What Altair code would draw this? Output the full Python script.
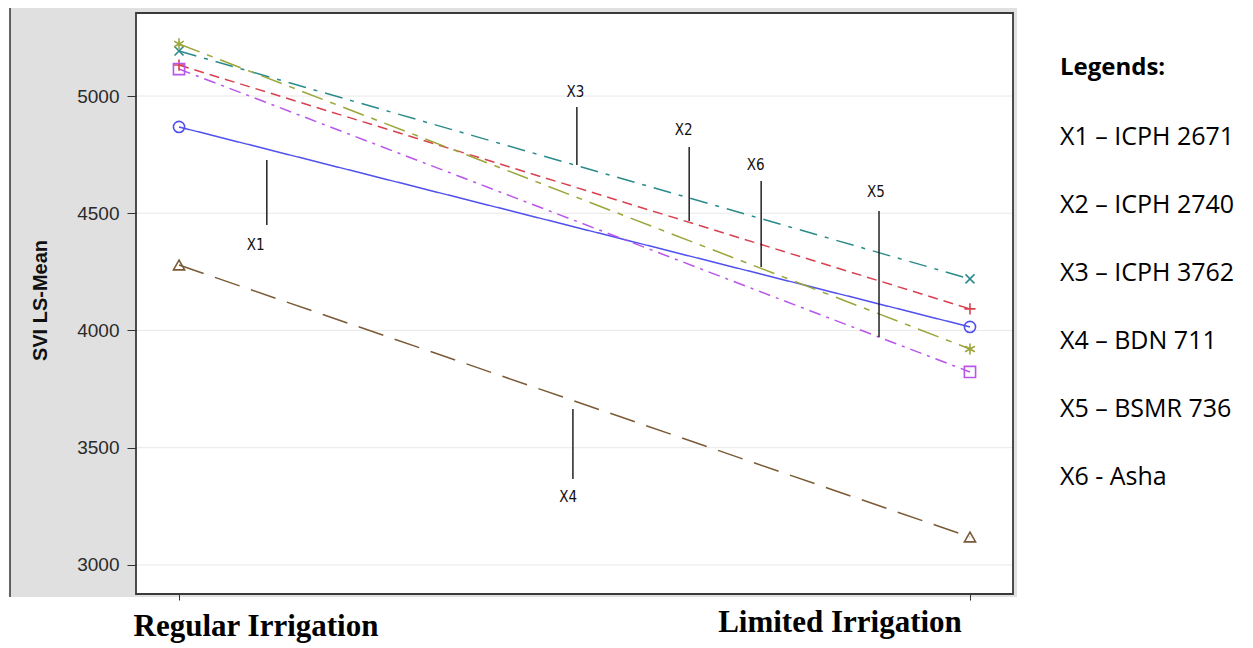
import altair as alt
import pandas as pd

# ---------------- data ----------------
conditions = ["Regular Irrigation", "Limited Irrigation"]
series = ["X1", "X2", "X3", "X4", "X5", "X6"]
regular_vals = [4868, 5132, 5192, 4279, 5115, 5222]
limited_vals = [4015, 4092, 4220, 3119, 3823, 3921]

y_ticks = [3000, 3500, 4000, 4500, 5000]

# annotation (callout) anchors, in data units (condition position 0..1, SVI value)
ann_labels = ["X1", "X2", "X3", "X4", "X5", "X6"]
ann_line_x = [0.111, 0.645, 0.503, 0.498, 0.885, 0.736]
ann_line_top = [4727, 4783, 4953, 3665, 4510, 4637]
ann_line_bot = [4450, 4467, 4706, 3367, 3972, 4271]
ann_text_x = [0.097, 0.638, 0.501, 0.492, 0.881, 0.729]
ann_text_y = [4365, 4855, 5017, 3290, 4591, 4706]

legend_title = "Legends:"
legend_items = [
    "X1 \u2013 ICPH 2671",
    "X2 \u2013 ICPH 2740",
    "X3 \u2013 ICPH 3762",
    "X4 \u2013 BDN 711",
    "X5 \u2013 BSMR 736",
    "X6 - Asha",
]

# ---------------- tables ----------------
rows = []
for s, r, l in zip(series, regular_vals, limited_vals):
    rows.append({"series": s, "cond": conditions[0], "pos": 0, "value": r})
    rows.append({"series": s, "cond": conditions[1], "pos": 1, "value": l})
df = pd.DataFrame(rows)

ann = pd.DataFrame({
    "label": ann_labels, "lx": ann_line_x, "ytop": ann_line_top,
    "ybot": ann_line_bot, "tx": ann_text_x, "ty": ann_text_y,
})
grid_df = pd.DataFrame({"tick": y_ticks})
cond_df = pd.DataFrame({"cond": conditions, "pos": [0, 1]})

# ---------------- styling ----------------
W, H = 877, 581
colors = ["#5050ee", "#d8404e", "#2a8a8a", "#7a5a36", "#b955ea", "#9ca53a"]
dashes = [[1, 0], [10, 6], [18, 8, 4, 8], [26, 12], [12, 6, 3, 6], [22, 8, 6, 8]]
shapes = [
    "circle",
    "M0,-1L0,1M-1,0L1,0",
    "M-0.8,-0.8L0.8,0.8M-0.8,0.8L0.8,-0.8",
    "triangle-up",
    "square",
    "M0,-1L0,1M-0.87,-0.5L0.87,0.5M-0.87,0.5L0.87,-0.5",
]

xscale = alt.Scale(domain=[-0.0544, 1.0544], nice=False, zero=False)
yscale = alt.Scale(domain=[2876, 5354], nice=False, zero=False)
xaxis = alt.Axis(values=[0, 1], labels=False, grid=False, domain=False,
                 tickSize=6, tickColor="#333333", tickWidth=1, title=None, zindex=1)
yaxis = alt.Axis(values=y_ticks, format="d", grid=False, domain=False, tickSize=9,
                 tickColor="#333333", tickWidth=1, labelFont="Liberation Sans",
                 labelFontSize=19, labelColor="#2a2a2a", labelPadding=8,
                 title="SVI LS-Mean", titleFont="Liberation Sans", titleFontSize=20,
                 titleFontWeight="bold", titleColor="#111111", titleX=-96, titleY=287,
                 titleAngle=270, titleAlign="center", titleBaseline="middle", zindex=1)


def X(field):
    return alt.X(field, type="quantitative", scale=xscale, axis=xaxis)


def Y(field):
    return alt.Y(field, type="quantitative", scale=yscale, axis=yaxis)


one = alt.Data(values=[{}])

gray_bg = alt.Chart(one).mark_rect(fill="#e0e0e0").encode(
    x=alt.value(-126), x2=alt.value(W + 4), y=alt.value(-5), y2=alt.value(H + 3))
left_edge = alt.Chart(one).mark_rule(color="#333333", strokeWidth=1.5).encode(
    x=alt.value(-126), y=alt.value(-5), y2=alt.value(H + 3))
frame = alt.Chart(one).mark_rect(fill="white", stroke="#3a3a3a", strokeWidth=1.8).encode(
    x=alt.value(0), x2=alt.value(W), y=alt.value(0), y2=alt.value(H))

grid = alt.Chart(grid_df).mark_rule(color="#e8e8e8", strokeWidth=1).encode(
    y=Y("tick"), x=alt.value(1), x2=alt.value(W - 1))

color_enc = alt.Color("series:N", scale=alt.Scale(domain=series, range=colors), legend=None)

lines = alt.Chart(df).mark_line(strokeWidth=1.5).encode(
    x=X("pos"), y=Y("value"), color=color_enc,
    strokeDash=alt.StrokeDash("series:N", scale=alt.Scale(domain=series, range=dashes), legend=None),
    detail="series:N",
)
points = alt.Chart(df).mark_point(filled=False, size=125, strokeWidth=1.6, opacity=1).encode(
    x=X("pos"), y=Y("value"), color=color_enc,
    shape=alt.Shape("series:N", scale=alt.Scale(domain=series, range=shapes), legend=None),
)

ann_rules = alt.Chart(ann).mark_rule(color="#222222", strokeWidth=1.5).encode(
    x=X("lx"), y=Y("ytop"), y2="ybot")
ann_text = alt.Chart(ann).mark_text(
    font="'Liberation Sans Narrow', 'DejaVu Sans Condensed', 'Roboto Condensed', sans-serif",
    fontSize=15, color="#111111", baseline="middle", align="center").encode(
    x=X("tx"), y=Y("ty"), text="label:N")

reg_label = alt.Chart(cond_df).transform_filter("datum.pos == 0").mark_text(
    font="Liberation Serif", fontSize=31, fontWeight="bold", color="#000000",
    align="center", baseline="alphabetic", dx=77).encode(
    x=X("pos"), y=alt.value(H + 42), text="cond:N")
lim_label = alt.Chart(cond_df).transform_filter("datum.pos == 1").mark_text(
    font="Liberation Serif", fontSize=31, fontWeight="bold", color="#000000",
    align="center", baseline="alphabetic", dx=-130).encode(
    x=X("pos"), y=alt.value(H + 38), text="cond:N")

leg_head = alt.Chart(one).mark_text(
    font="Open Sans", fontSize=24, fontWeight="bold", color="#000000",
    align="left", baseline="middle").encode(
    x=alt.value(W + 47), y=alt.value(55), text=alt.value(legend_title))
leg_items = alt.Chart(one).mark_text(
    font="Open Sans", fontSize=25, color="#000000", align="left",
    baseline="middle", lineHeight=68).encode(
    x=alt.value(W + 47), y=alt.value(124), text=alt.value(legend_items))

chart = alt.layer(
    gray_bg, left_edge, frame, grid, lines, points, ann_rules, ann_text,
    reg_label, lim_label, leg_head, leg_items,
).properties(
    width=W, height=H,
    autosize=alt.AutoSizeParams(type="none"),
    padding={"left": 128, "top": 5, "right": 232, "bottom": 50},
).configure_view(stroke=None).configure(background="white")

chart.save("out.html", embed_options={"renderer": "svg", "actions": False})
